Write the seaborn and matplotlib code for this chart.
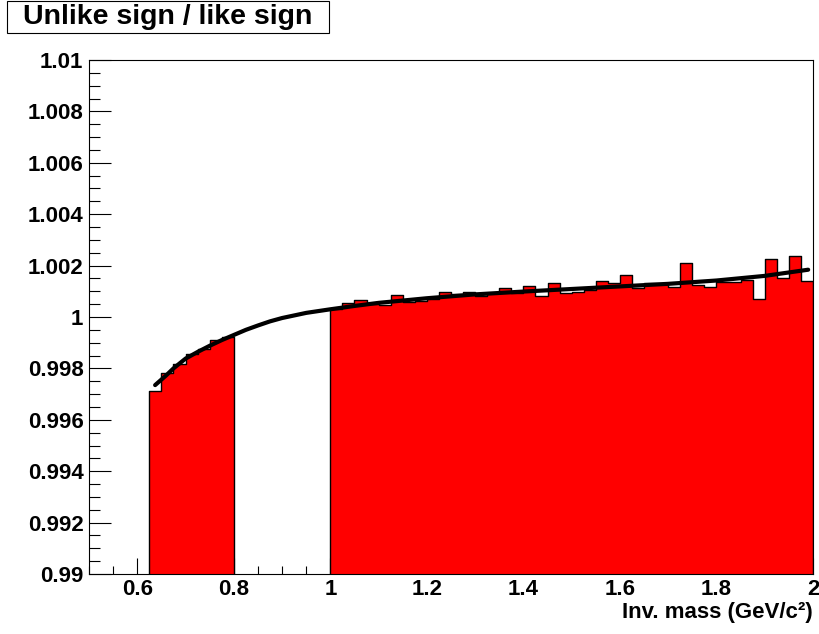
import numpy as np
import pandas as pd
import matplotlib
matplotlib.use("Agg")
import matplotlib.pyplot as plt
from matplotlib.patches import Rectangle
from matplotlib.ticker import FixedLocator, FixedFormatter, MultipleLocator
import seaborn as sns

# Ratio histogram (unlike-sign / like-sign pairs), 0.025 GeV/c^2 bins
BIN_WIDTH = 0.025
low_mass_start = 0.625
low_mass_ratio = [0.99713, 0.99781, 0.99817, 0.99856, 0.99874, 0.99910, 0.99923]
high_mass_start = 1.0
high_mass_ratio = [
    1.00031, 1.00053, 1.00066, 1.00049, 1.00045, 1.00084, 1.00060, 1.00062,
    1.00069, 1.00097, 1.00090, 1.00098, 1.00080, 1.00092, 1.00112, 1.00092,
    1.00121, 1.00083, 1.00134, 1.00092, 1.00097, 1.00107, 1.00141, 1.00133,
    1.00162, 1.00111, 1.00131, 1.00131, 1.00117, 1.00210, 1.00126, 1.00116,
    1.00135, 1.00136, 1.00144, 1.00070, 1.00225, 1.00150, 1.00236, 1.00141,
]
hist_range = (0.625, 2.0)

# Fit curve samples
fit_mass = [0.637, 0.66, 0.675, 0.70, 0.725, 0.75, 0.775, 0.80, 0.825, 0.85,
            0.875, 0.90, 0.95, 1.00, 1.05, 1.10, 1.20, 1.30, 1.40, 1.50,
            1.60, 1.70, 1.80, 1.90, 1.99]
fit_ratio = [0.99735, 0.99773, 0.99800, 0.99838, 0.99864, 0.99888, 0.99910,
             0.99930, 0.99950, 0.99967, 0.99983, 0.99996, 1.00016, 1.00030,
             1.00043, 1.00055, 1.00073, 1.00088, 1.00099, 1.00109, 1.00119,
             1.00129, 1.00142, 1.00160, 1.00184]

xtick_values = [0.6, 0.8, 1.0, 1.2, 1.4, 1.6, 1.8, 2.0]
xtick_labels = ["0.6", "0.8", "1", "1.2", "1.4", "1.6", "1.8", "2"]
ytick_values = [0.990, 0.992, 0.994, 0.996, 0.998, 1.000, 1.002, 1.004,
                1.006, 1.008, 1.010]
ytick_labels = ["0.99", "0.992", "0.994", "0.996", "0.998", "1", "1.002",
                "1.004", "1.006", "1.008", "1.01"]

title_text = "Unlike sign / like sign"
xlabel_text = "Inv. mass (GeV/c\u00b2)"

sns.set_style("ticks")
plt.rcParams["font.family"] = ["Liberation Sans", "DejaVu Sans"]
plt.rcParams["font.weight"] = "bold"
plt.rcParams["text.color"] = "black"
plt.rcParams["axes.labelcolor"] = "black"
plt.rcParams["xtick.color"] = "black"
plt.rcParams["ytick.color"] = "black"

W, H = 820, 634
fig = plt.figure(figsize=(W / 100, H / 100), dpi=100)
ax = fig.add_axes([89 / W, 1 - 574 / H, (813 - 89) / W, (574 - 60) / H])

# bin centres and edges
low_centers = low_mass_start + BIN_WIDTH * (np.arange(len(low_mass_ratio)) + 0.5)
high_centers = high_mass_start + BIN_WIDTH * (np.arange(len(high_mass_ratio)) + 0.5)
hist_df = pd.DataFrame({
    "mass": np.concatenate([low_centers, high_centers]),
    "ratio": np.concatenate([low_mass_ratio, high_mass_ratio]),
})
n_bins = int(round((hist_range[1] - hist_range[0]) / BIN_WIDTH))
edges = [float(e) for e in hist_range[0] + BIN_WIDTH * np.arange(n_bins + 1)]

sns.histplot(data=hist_df, x="mass", weights="ratio", bins=edges,
             element="step", fill=True, color="#ff0000", alpha=1,
             edgecolor="black", linewidth=1.0, ax=ax)

sns.lineplot(x=fit_mass, y=fit_ratio, color="black", linewidth=3.0,
             solid_capstyle="round", ax=ax)

ax.set_xlim(0.5, 2.0)
ax.set_ylim(0.99, 1.01)
ax.set_xlabel("")
ax.set_ylabel("")

ax.xaxis.set_major_locator(FixedLocator(xtick_values))
ax.xaxis.set_major_formatter(FixedFormatter(xtick_labels))
ax.xaxis.set_minor_locator(MultipleLocator(0.05))
ax.yaxis.set_major_locator(FixedLocator(ytick_values))
ax.yaxis.set_major_formatter(FixedFormatter(ytick_labels))
ax.yaxis.set_minor_locator(MultipleLocator(0.0005))

for side in ["top", "right", "bottom", "left"]:
    ax.spines[side].set_visible(True)
    ax.spines[side].set_color("black")
    ax.spines[side].set_linewidth(0.8)

ax.tick_params(which="both", direction="in", top=False, right=False,
               color="black", labelcolor="black", width=0.8, labelsize=16)
ax.tick_params(axis="y", which="major", length=16, pad=4)
ax.tick_params(axis="y", which="minor", length=8)
ax.tick_params(axis="x", which="major", length=11.5, pad=3.5)
ax.tick_params(axis="x", which="minor", length=5.5)
for lbl in ax.get_xticklabels() + ax.get_yticklabels():
    lbl.set_fontweight("bold")

# x axis title, right-aligned under the axis end
fig.text(813 / W, 1 - 618 / H, xlabel_text, ha="right", va="baseline",
         fontsize=16, fontweight="bold", color="black")

# boxed title in the upper-left corner
fig.patches.append(Rectangle((7 / W, 1 - 33 / H), 322 / W, 32 / H,
                             transform=fig.transFigure, facecolor="white",
                             edgecolor="black", linewidth=0.8))
fig.text(23 / W, 1 - 24 / H, title_text, ha="left", va="baseline",
         fontsize=20.5, fontweight="bold", color="black")

fig.savefig("out.png", dpi=100)
